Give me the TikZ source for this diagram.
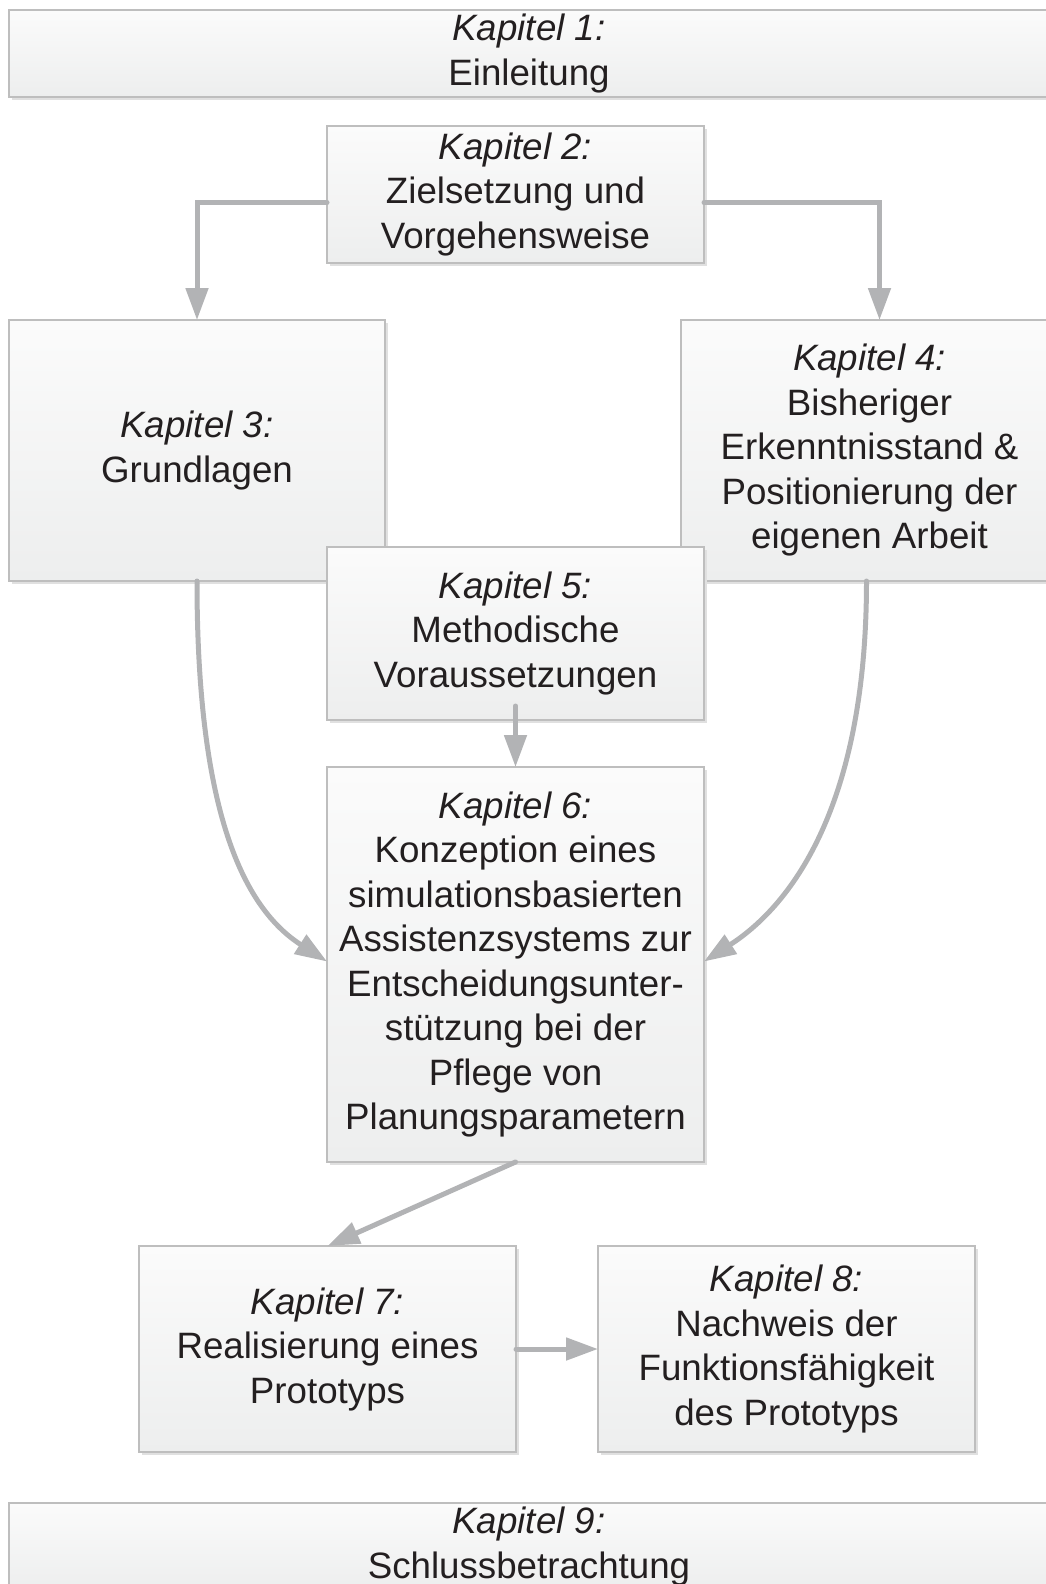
\documentclass[tikz,border=0pt]{standalone}
\usepackage{fontspec}
\setmainfont{Liberation Sans}
\usetikzlibrary{arrows.meta,shadows}
\definecolor{boxline}{HTML}{BEBEBE}
\definecolor{boxtop}{HTML}{FBFBFB}
\definecolor{boxbottom}{HTML}{EDEEEE}
\definecolor{arrowgray}{HTML}{B2B3B5}
\definecolor{textdark}{HTML}{231F20}
\begin{document}
\begin{tikzpicture}[x=1pt,y=-1pt,
    chapbox/.style={draw=boxline, line width=1.2pt, top color=boxtop, bottom color=boxbottom,
        drop shadow={shadow xshift=3pt, shadow yshift=-3pt, fill=black!12, opacity=1},
        align=center, inner sep=0pt, outer sep=0pt, text=textdark,
        font=\fontsize{36.7}{44.5}\selectfont},
    flow/.style={draw=arrowgray, line width=5pt, line cap=round,
        -{Triangle[length=32pt, width=22pt]}}]
    \useasboundingbox (0,0) rectangle (1046,1584);

    % Boxes
    \node[chapbox, minimum width=1040, minimum height=87] (n1) at (529,53.5) {\textit{Kapitel 1:}\\Einleitung};
    \node[chapbox, minimum width=377, minimum height=137] (n2) at (515.5,194.5) {\textit{Kapitel 2:}\\Zielsetzung und\\Vorgehensweise};
    \node[chapbox, minimum width=376, minimum height=261] (n3) at (197,450.5) {\textit{Kapitel 3:}\\Grundlagen};
    \node[chapbox, minimum width=377, minimum height=261] (n4) at (869.5,450.5) {\textit{Kapitel 4:}\\Bisheriger\\Erkenntnisstand \&\\Positionierung der\\eigenen Arbeit};
    \node[chapbox, minimum width=377, minimum height=173] (n5) at (515.5,633.5) {\textit{Kapitel 5:}\\Methodische\\Voraussetzungen};
    \node[chapbox, minimum width=377, minimum height=395] (n6) at (515.5,964.5) {\textit{Kapitel 6:}\\Konzeption eines\\simulationsbasierten\\Assistenzsystems zur\\Entscheidungsunter-\\stützung bei der\\Pflege von\\Planungsparametern};
    \node[chapbox, minimum width=377, minimum height=206] (n7) at (327.5,1349) {\textit{Kapitel 7:}\\Realisierung eines\\Prototyps};
    \node[chapbox, minimum width=377, minimum height=206] (n8) at (786.5,1349) {\textit{Kapitel 8:}\\Nachweis der\\Funktionsfähigkeit\\des Prototyps};
    \node[chapbox, minimum width=1040, minimum height=87] (n9) at (529,1546.5) {\textit{Kapitel 9:}\\Schlussbetrachtung};

    % Arrows
    \draw[flow] ([yshift=-8pt]n2.west) -| (n3.north);
    \draw[flow] ([yshift=-8pt]n2.east) -| ([xshift=10pt]n4.north);
    \draw[flow] (n3.south) .. controls +(0,230) and +(-84,-54) .. ([yshift=3pt]n6.west);
    \draw[flow] ([xshift=-3pt]n4.south) .. controls +(0,230) and +(84,-54) .. ([yshift=3pt]n6.east);
    \draw[flow] ([yshift=14pt]n5.south) -- (n6.north);
    \draw[flow] (n6.south) -- (n7.north);
    \draw[flow] (n7.east) -- (n8.west);
\end{tikzpicture}
\end{document}
